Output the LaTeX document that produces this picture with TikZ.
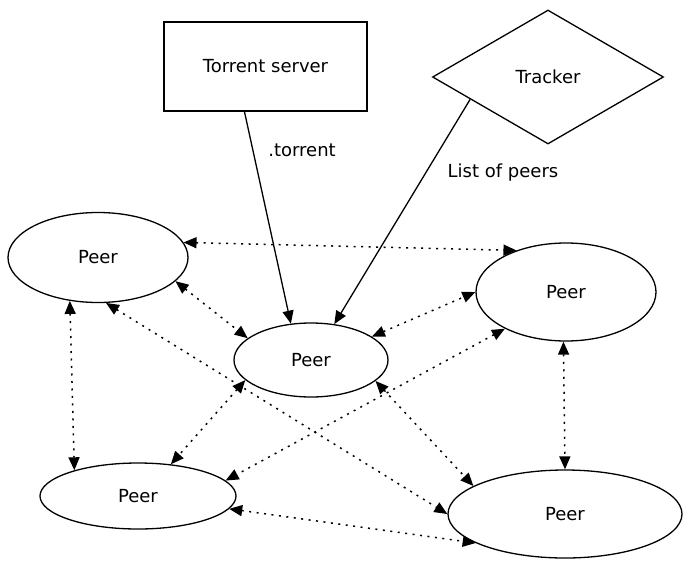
\documentclass[tikz,border=0pt]{standalone}
\usepackage{fontspec}
\setmainfont{DejaVu Sans}
\usepackage{tikz}
\usetikzlibrary{positioning, shapes.geometric, arrows.meta}

\begin{document}
\begin{tikzpicture}[x=1pt, y=-1pt,
    font=\fontsize{18}{21}\selectfont,
    peer/.style={draw, line width=1.3pt, ellipse, inner sep=0pt},
    link/.style={{Triangle[length=13pt,width=11pt]}-{Triangle[length=13pt,width=11pt]}, line width=1.5pt, dash pattern=on 2pt off 5.5pt},
    feed/.style={-{Triangle[length=13pt,width=11pt]}, line width=1.3pt}]
    \useasboundingbox (0,0) rectangle (690,568);

    % Server and tracker
    \node[draw, line width=1.3pt, minimum width=203pt, minimum height=89pt] (srv) at (265.5,66.5) {Torrent server};
    \node[draw, line width=1.3pt, diamond, minimum width=231pt, minimum height=134pt, inner sep=0pt] (trk) at (548,77) {Tracker};

    % Peers
    \node[peer, minimum width=180pt, minimum height=90pt] (p1) at (98,257.5) {Peer};
    \node[peer, minimum width=154pt, minimum height=74pt] (p2) at (311,360) {Peer};
    \node[peer, minimum width=180pt, minimum height=98pt] (p3) at (566,292) {Peer};
    \node[peer, minimum width=196pt, minimum height=66pt] (p4) at (138,496) {Peer};
    \node[peer, minimum width=234pt, minimum height=88pt] (p5) at (565,514) {Peer};

    % Downloads
    \draw[feed] (srv.-115) -- (p2.119);
    \draw[feed] (trk.196) -- (p2.57);
    \node (lbltorrent) at (302,150) {.torrent};
    \node (lblpeers) at (503,173) {List of peers};

    % Dotted peer links
    \foreach \a/\b in {p1.10/p3.140, p1.-17/p2.161, p1.-80/p5.180, p1.-123/p4.158, p2.21/p3.180, p2.197/p4.44, p2.-18/p5.163, p3.211/p4.10, p3.-93/p5.90, p4.-8/p5.198}
      \draw[link] (\a) -- (\b);

\end{tikzpicture}
\end{document}
